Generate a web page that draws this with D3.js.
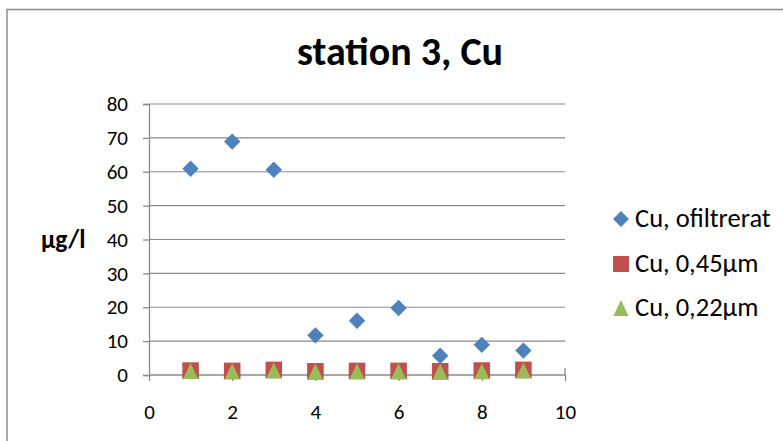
<!DOCTYPE html>
<html>
<head>
<meta charset="utf-8">
<script src="https://cdn.jsdelivr.net/npm/d3@7"></script>
<style>
  html, body { margin: 0; padding: 0; background: #fff; }
  svg { display: block; font-family: Carlito, Calibri, Lato, "Open Sans", sans-serif; }
</style>
</head>
<body>
<svg id="chart" width="783" height="441"></svg>
<script>
// Copper concentrations at station 3, per sample number
const samples = [1, 2, 3, 4, 5, 6, 7, 8, 9];
const cuUnfiltered = [60.9, 68.9, 60.6, 11.7, 16.0, 19.8, 5.7, 8.9, 7.2];
const cu045 = [1.3, 1.2, 1.5, 1.1, 1.2, 1.2, 1.1, 1.3, 1.5];
const cu022 = [1.2, 1.1, 1.3, 1.0, 1.1, 1.1, 1.0, 1.1, 1.3];
const xTicks = [0, 2, 4, 6, 8, 10];
const yTicks = [0, 10, 20, 30, 40, 50, 60, 70, 80];
const seriesNames = ["Cu, ofiltrerat", "Cu, 0,45µm", "Cu, 0,22µm"];
const seriesColors = ["#4F81BD", "#C0504D", "#9BBB59"];
const titleText = "station 3, Cu";
const yAxisLabel = "µg/l";

// marker outlines, centred on their bounding box, r = half width
const shapes = [
  r => `M0,${-r}L${r},0L0,${r}L${-r},0Z`,
  r => `M${-r},${-r}H${r}V${r}H${-r}Z`,
  r => `M0,${-r}L${r * 0.95},${r}H${-r * 0.95}Z`
];

const svg = d3.select("#chart");

// outer chart frame (top and left edges visible)
svg.append("path")
  .attr("d", "M7,441 L7,9.5 L783,9.5")
  .attr("fill", "none")
  .attr("stroke", "#8c8c8c")
  .attr("stroke-width", 1.5);

const x = d3.scaleLinear().domain([0, 10]).range([149, 565]);
const y = d3.scaleLinear().domain([0, 80]).range([375, 104]);
const gridColor = "#8a8a8a";

// horizontal gridlines
svg.append("g")
  .selectAll("line")
  .data(yTicks.filter(t => t > 0))
  .join("line")
  .attr("x1", x(0)).attr("x2", x(10))
  .attr("y1", d => y(d)).attr("y2", d => y(d))
  .attr("stroke", gridColor).attr("stroke-width", 1.2);

// y axis
const yAxis = svg.append("g")
  .attr("transform", `translate(${x(0)},0)`)
  .call(d3.axisLeft(y).tickValues(yTicks).tickSize(6).tickPadding(15));
// x axis
const xAxis = svg.append("g")
  .attr("transform", `translate(0,${y(0)})`)
  .call(d3.axisBottom(x).tickValues(xTicks).tickSize(6).tickPadding(23));

[yAxis, xAxis].forEach(ax => {
  ax.attr("font-family", null);
  ax.select(".domain").attr("stroke", gridColor).attr("stroke-width", 1.3);
  ax.selectAll(".tick line").attr("stroke", gridColor).attr("stroke-width", 1.3);
  ax.selectAll(".tick text").attr("fill", "#000").style("font-size", "21px");
});
xAxis.select(".domain").attr("d", `M${x(0)},0H${x(10)}V-7`);

// series markers
const series = [cuUnfiltered, cu045, cu022];
const markerR = [8.2, 8.3, 8];
series.forEach((vals, i) => {
  svg.append("g")
    .selectAll("path")
    .data(samples.map((s, j) => ({ s, v: vals[j] })))
    .join("path")
    .attr("transform", d => `translate(${x(d.s)},${y(d.v)})`)
    .attr("d", shapes[i](markerR[i]))
    .attr("fill", seriesColors[i]);
});

// title
svg.append("text")
  .attr("x", 400).attr("y", 65)
  .attr("text-anchor", "middle")
  .style("font-size", "40px").style("font-weight", "bold")
  .text(titleText);

// y axis title
svg.append("text")
  .attr("x", 41).attr("y", 248)
  .style("font-size", "25.5px").style("font-weight", "bold")
  .text(yAxisLabel);

// legend
const legendY = [219, 264, 308];
seriesNames.forEach((name, i) => {
  svg.append("path")
    .attr("transform", `translate(621,${legendY[i]})`)
    .attr("d", shapes[i](8))
    .attr("fill", seriesColors[i]);
  svg.append("text")
    .attr("x", 635).attr("y", legendY[i] + 8)
    .style("font-size", "26.5px")
    .text(name);
});
</script>
</body>
</html>
